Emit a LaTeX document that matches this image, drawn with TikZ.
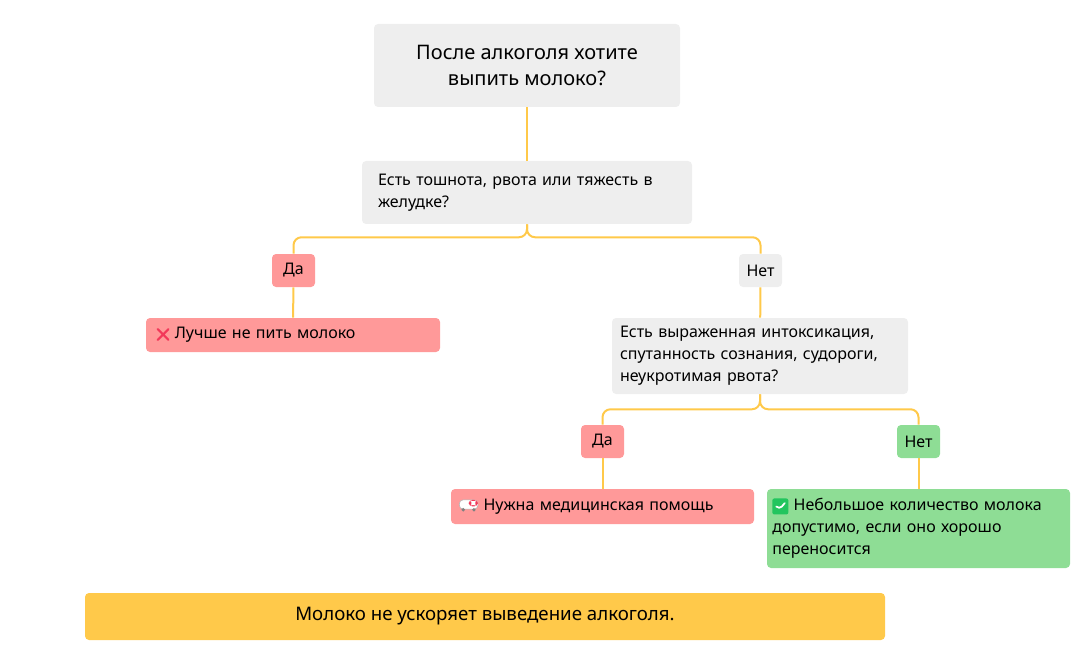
\documentclass[tikz,border=0pt]{standalone}
\usepackage{fontspec}
\setmainfont{Noto Sans}
\usetikzlibrary{positioning}

\definecolor{boxgray}{HTML}{EEEEEE}
\definecolor{boxred}{HTML}{FF9999}
\definecolor{boxgreen}{HTML}{8EDD95}
\definecolor{linkyellow}{HTML}{FFC94A}
\definecolor{crossred}{HTML}{F2385A}
\definecolor{checkgreen}{HTML}{22C55E}

\newcommand{\crossicon}{\tikz[baseline=-0.5ex,line width=1.6pt,crossred,line cap=round]{\draw (-4pt,-4pt) -- (4pt,4pt) (-4pt,4pt) -- (4pt,-4pt);}}
\newcommand{\checkicon}{\tikz[baseline=-0.5ex]{\fill[checkgreen,rounded corners=1.5pt] (-6pt,-6pt) rectangle (6pt,6pt); \draw[white,line width=1.3pt,line cap=round] (-3pt,0pt) -- (-0.8pt,-2.3pt) -- (3.3pt,2.5pt);}}
\newcommand{\ambuicon}{\tikz[baseline=-0.6ex]{\fill[white,draw=gray!60] (-7pt,-3pt) rectangle (7pt,4pt); \fill[crossred] (0pt,-1pt) rectangle (7pt,4pt); \fill[white] (2.8pt,0pt) rectangle (4.2pt,3pt) (2pt,0.8pt) rectangle (5pt,2.2pt); \fill[gray] (-4pt,-3.5pt) circle (1.4pt) (4pt,-3.5pt) circle (1.4pt);}}

\begin{document}
\begin{tikzpicture}[x=0.75pt,y=-0.75pt]
	\tikzstyle{Box}		= [rectangle, rounded corners=3pt, inner ysep=0pt, font=\fontsize{12}{16.5}\selectfont]
	\tikzstyle{Gray}	= [Box, fill=boxgray]
	\tikzstyle{Red}		= [Box, fill=boxred]
	\tikzstyle{Green}	= [Box, fill=boxgreen]
	\tikzstyle{Tag}		= [minimum width=32.25pt, minimum height=24.75pt, inner xsep=0pt]
	\tikzstyle{Link}	= [draw=linkyellow, line width=1.5pt, rounded corners=6pt]

	\useasboundingbox (0,0) rectangle (1084,670);

	\node (start) at (527, 65.5) [Gray, minimum width=229.5pt, minimum height=62.25pt, align=center, font=\fontsize{15}{20}\selectfont] {После алкоголя хотите\\выпить молоко?};
	\node (q1) at (527, 192.5) [Gray, minimum height=47.25pt, inner xsep=12pt, text width=223.5pt, align=left] {Есть тошнота, рвота или тяжесть в\\желудке?};
	\node (yes1) at (293.5, 270.5) [Red][Tag] {Да};
	\node (no1) at (760.5, 270.5) [Gray][Tag] {Нет};
	\node (res1) at (293, 335) [Red, minimum height=25.5pt, inner xsep=8pt, text width=204.5pt, align=left] {\crossicon\ Лучше не пить молоко};
	\node (q2) at (760, 356) [Gray, minimum height=57pt, inner xsep=6pt, text width=210pt, align=left] {Есть выраженная интоксикация,\\спутанность сознания, судороги,\\неукротимая рвота?};
	\node (yes2) at (602.5, 441.5) [Red][Tag] {Да};
	\node (no2) at (918.5, 441.5) [Green][Tag] {Нет};
	\node (res2) at (602.5, 506.5) [Red, minimum height=26.25pt, inner xsep=6pt, text width=215.25pt, align=left] {\ambuicon\ Нужна медицинская помощь};
	\node (res3) at (918.5, 528.5) [Green, minimum height=59.25pt, inner xsep=4pt, text width=219.25pt, align=left] {\checkicon\ Небольшое количество молока\\допустимо, если оно хорошо\\переносится};
	\node (note) at (485, 616.5) [Box, fill=linkyellow, minimum width=600pt, minimum height=35.25pt, font=\fontsize{14}{18}\selectfont] {Молоко не ускоряет выведение алкоголя.};

	\draw [Link] (start) -- (q1);
	\draw [Link] (q1.south) -- ++(0,13) -| (yes1);
	\draw [Link] (q1.south) -- ++(0,13) -| (no1);
	\draw [Link] (yes1) -- (res1);
	\draw [Link] (no1) -- (q2);
	\draw [Link] (q2.south) -- ++(0,15) -| (yes2);
	\draw [Link] (q2.south) -- ++(0,15) -| (no2);
	\draw [Link] (yes2) -- (res2);
	\draw [Link] (no2) -- (res3);
\end{tikzpicture}
\end{document}
